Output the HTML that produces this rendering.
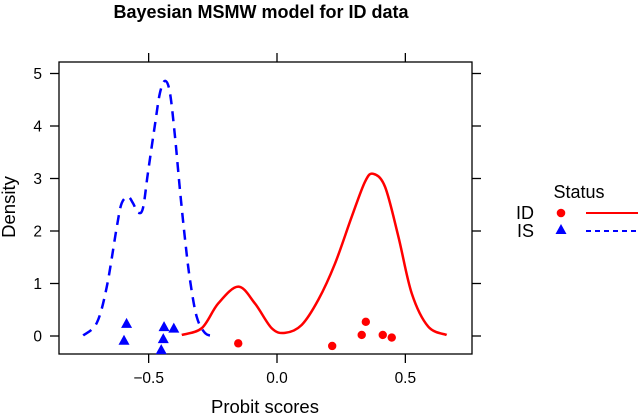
<!DOCTYPE html>
<html><head><meta charset="utf-8"><style>
html,body{margin:0;padding:0;background:#fff;}
svg{display:block;font-family:"Liberation Sans",Arial,sans-serif;}
</style></head><body>
<svg id="chart" width="640" height="416" viewBox="0 0 640 416">
<text x="261" y="18" text-anchor="middle" font-size="18" font-weight="bold">Bayesian MSMW model for ID data</text>
<text transform="translate(15,207) rotate(-90)" text-anchor="middle" font-size="18.5">Density</text>
<text x="265" y="413" text-anchor="middle" font-size="18.5">Probit scores</text>
<g id="axes"></g>
<g id="marks"></g>
<g>
<text x="579" y="198" text-anchor="middle" font-size="18">Status</text>
<g>
<text x="534" y="219" text-anchor="end" font-size="18">ID</text>
<circle cx="561" cy="213" r="4.3" fill="#ff0000"/>
<line x1="586" y1="213" x2="638" y2="213" stroke="#ff0000" stroke-width="2"/>
</g>
<g>
<text x="534" y="237" text-anchor="end" font-size="18">IS</text>
<polygon points="561,224 566.5,234 555.5,234" fill="#0000ff"/>
<line x1="586" y1="231" x2="638" y2="231" stroke="#0000ff" stroke-width="2" stroke-dasharray="5,4"/>
</g>
</g>
</svg>
<script>
const xTicks=[-0.5,0,0.5];
const xTickLabels=["\u22120.5","0.0","0.5"];
const yTicks=[0,1,2,3,4,5];
const isCurveX=[-0.755,-0.702,-0.663,-0.624,-0.605,-0.580,-0.561,-0.541,-0.522,-0.503,-0.475,-0.456,-0.436,-0.417,-0.397,-0.378,-0.358,-0.339,-0.313,-0.281,-0.249];
const isCurveY=[0.01,0.25,0.94,2.08,2.53,2.65,2.53,2.35,2.44,3.10,4.04,4.63,4.86,4.63,3.78,2.78,1.83,1.07,0.37,0.06,0.0];
const idCurveX=[-0.371,-0.293,-0.229,-0.151,-0.086,-0.021,0.031,0.096,0.161,0.226,0.291,0.343,0.375,0.421,0.473,0.525,0.589,0.661];
const idCurveY=[0.02,0.15,0.62,0.94,0.62,0.15,0.06,0.21,0.69,1.38,2.27,2.94,3.09,2.84,1.89,0.81,0.18,0.02];
const idPointX=[-0.151,0.215,0.330,0.346,0.412,0.447];
const idPointY=[-0.14,-0.19,0.02,0.27,0.02,-0.03];
const isPointX=[-0.586,-0.596,-0.440,-0.443,-0.451,-0.402];
const isPointY=[0.23,-0.09,0.17,-0.06,-0.27,0.14];

const L=59,R=472,T=62,B=354;
function sx(v){return 277+v*256.7;}
function sy(v){return 336-v*52.5;}
const NS="http://www.w3.org/2000/svg";
function mk(tag,attrs,parent){const e=document.createElementNS(NS,tag);for(const k in attrs)e.setAttribute(k,attrs[k]);parent.appendChild(e);return e;}
const axes=document.getElementById('axes');
const marks=document.getElementById('marks');
const frame=mk('rect',{x:L,y:T,width:R-L,height:B-T,fill:'none',stroke:'#000','stroke-width':1.3},axes);


xTicks.forEach((t,i)=>{
  const x=sx(t);
  const tb=mk('line',{x1:x,y1:B,x2:x,y2:B+9,stroke:'#000','stroke-width':1.3},axes);
  
  
  const tt=mk('line',{x1:x,y1:T,x2:x,y2:T-9,stroke:'#000','stroke-width':1.3},axes);
  
  
  const lb=mk('text',{x:x,y:383,'text-anchor':'middle','font-size':15.5},axes);
  lb.textContent=xTickLabels[i];
  
  
});
yTicks.forEach(t=>{
  const y=sy(t);
  const tl=mk('line',{x1:L,y1:y,x2:L-9,y2:y,stroke:'#000','stroke-width':1.3},axes);
  
  
  const tr=mk('line',{x1:R,y1:y,x2:R+9,y2:y,stroke:'#000','stroke-width':1.3},axes);
  
  
  const lb=mk('text',{x:42,y:y+5.5,'text-anchor':'end','font-size':15.5},axes);
  lb.textContent=String(t);
  
  
});
function pathFrom(xs,ys){
  const p=xs.map((x,i)=>[sx(x),sy(ys[i])]);
  let d='M'+p[0][0]+','+p[0][1];
  for(let i=0;i<p.length-1;i++){
    const p0=p[i-1]||p[i],p1=p[i],p2=p[i+1],p3=p[i+2]||p2;
    const c1x=p1[0]+(p2[0]-p0[0])/6,c1y=p1[1]+(p2[1]-p0[1])/6;
    const c2x=p2[0]-(p3[0]-p1[0])/6,c2y=p2[1]-(p3[1]-p1[1])/6;
    d+=' C'+c1x+','+c1y+' '+c2x+','+c2y+' '+p2[0]+','+p2[1];
  }
  return d;
}
const isLine=mk('path',{d:pathFrom(isCurveX,isCurveY),fill:'none',stroke:'#0000ff','stroke-width':2.5,'stroke-dasharray':'10,7'},marks);


const idLine=mk('path',{d:pathFrom(idCurveX,idCurveY),fill:'none',stroke:'#ff0000','stroke-width':2.5},marks);


idPointX.forEach((x,i)=>{
  const c=mk('circle',{cx:sx(x),cy:sy(idPointY[i]),r:4.2,fill:'#ff0000'},marks);
  
  
});
isPointX.forEach((x,i)=>{
  const cx=sx(x),cy=sy(isPointY[i]);
  const t=mk('polygon',{points:(cx)+','+(cy-6)+' '+(cx+5.5)+','+(cy+4)+' '+(cx-5.5)+','+(cy+4),fill:'#0000ff'},marks);
  
  
});
</script>
</body></html>
